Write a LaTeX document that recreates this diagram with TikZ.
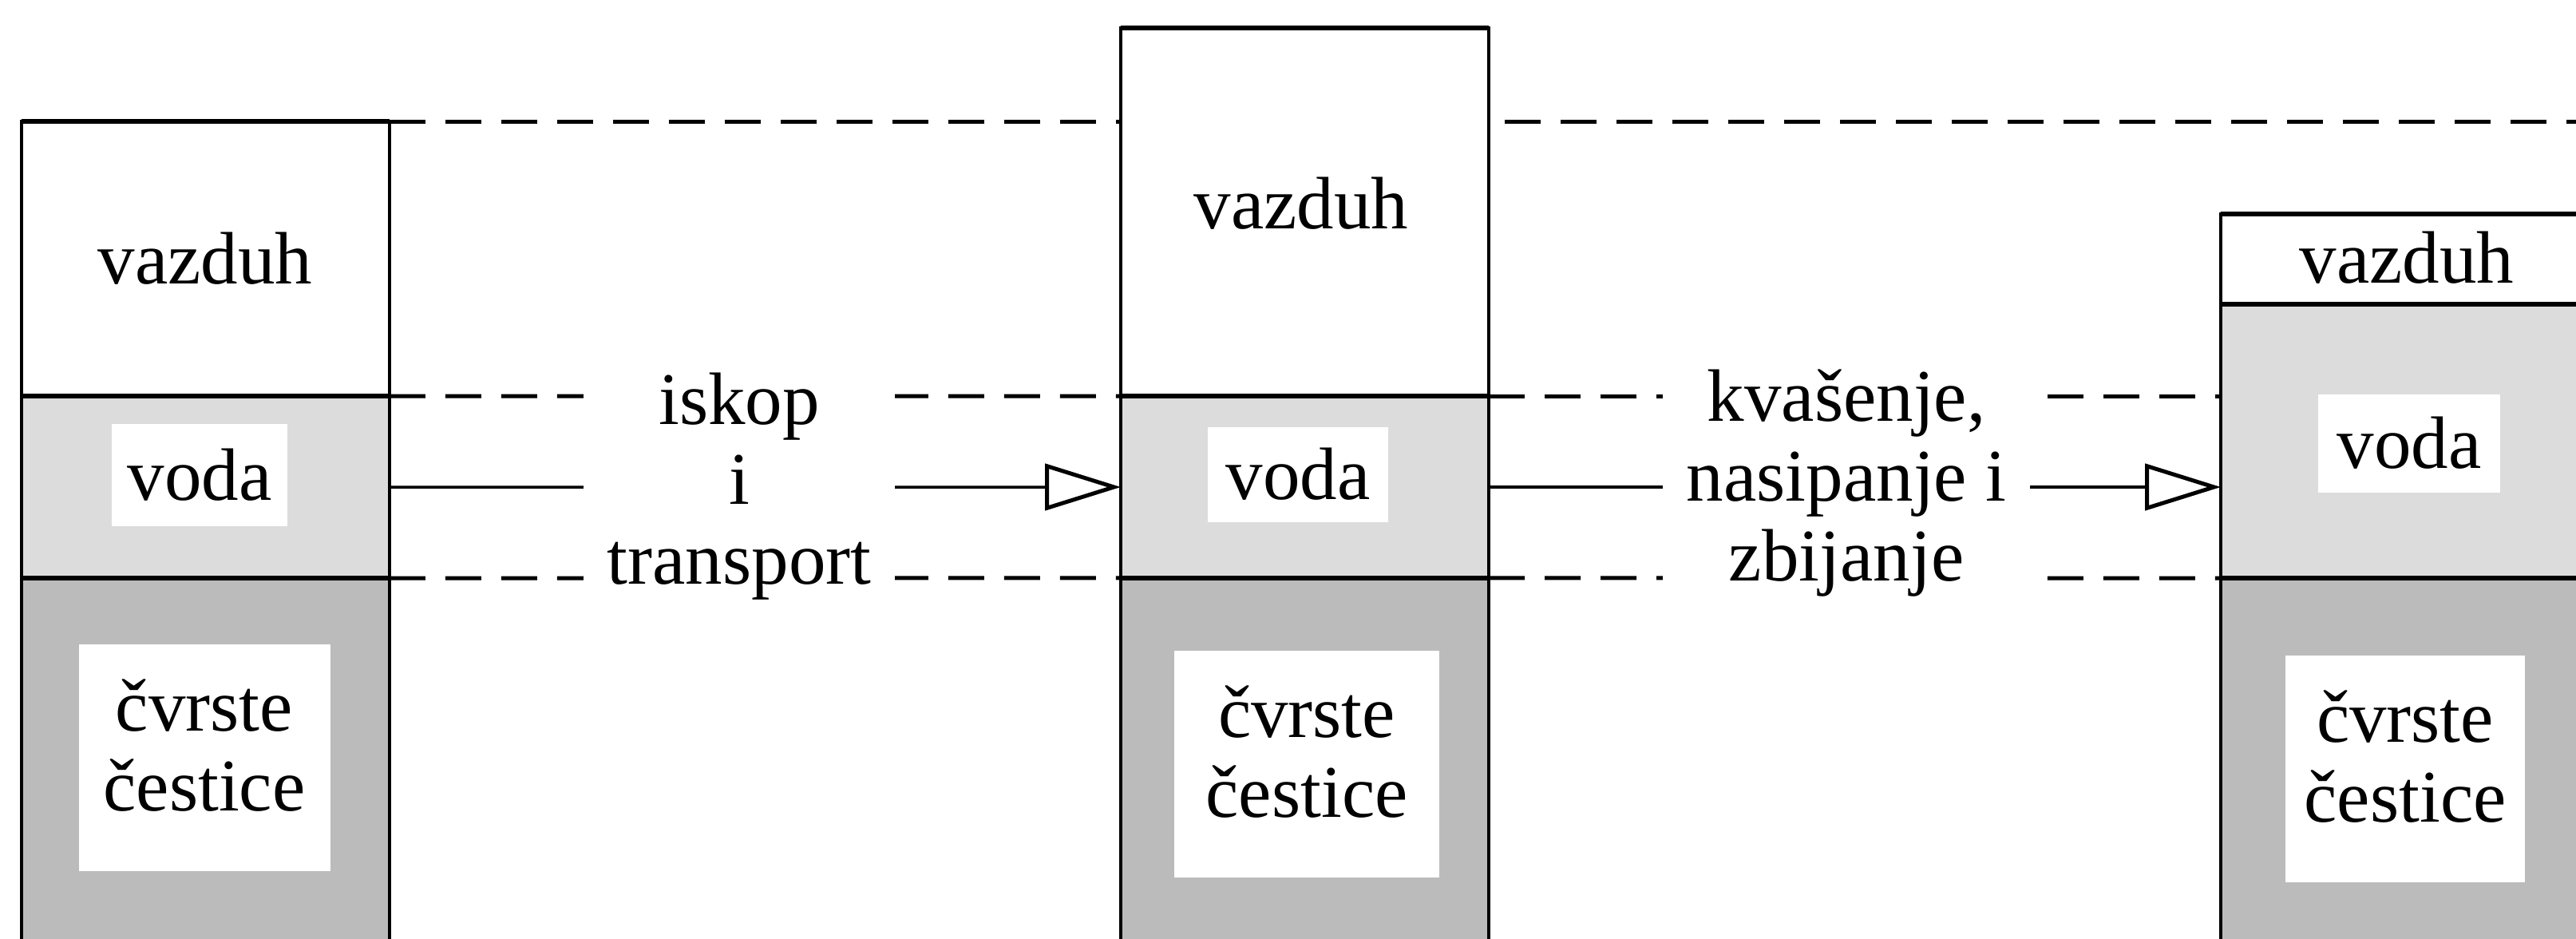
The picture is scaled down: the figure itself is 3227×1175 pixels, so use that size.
\documentclass[tikz,border=0pt]{standalone}
\usepackage{fontspec}
\setmainfont{Liberation Serif}
\usetikzlibrary{positioning,arrows.meta}
\definecolor{WaterGray}{HTML}{DCDCDC}
\definecolor{GrainGray}{HTML}{BBBBBB}

\begin{document}
\begin{tikzpicture}[x=0.1pt, y=-0.1pt,
  font=\fontsize{9.3pt}{10pt}\selectfont,
  stratum/.style={draw, line width=0.35pt, minimum width=46.1pt, inner sep=0pt, outer sep=0pt},
  air/.style={stratum, fill=white},
  water/.style={stratum, fill=WaterGray},
  grains/.style={stratum, fill=GrainGray, minimum height=50pt},
  tag/.style={fill=white, inner sep=0pt, align=center},
  graintag/.style={tag, minimum height=28.4pt, text depth=3.2pt},
  boundary/.style={line width=0.6pt},
  level/.style={dash pattern=on 4.5pt off 2.5pt, line width=0.5pt},
  flow/.style={line width=0.35pt, -{Triangle[open, length=9.5pt, width=5.8pt, line width=0.5pt]}},
  process/.style={fill=white, inner xsep=3pt, inner ysep=2pt, align=center}]
  \clip (0,0) rectangle (3227,1175);

  % Column 1: natural soil
  \node[air, minimum height=34.4pt, anchor=north west] (air1) at (27,152) {};
  \node[water, minimum height=22.8pt, below=0pt of air1] (water1) {};
  \node[grains, below=0pt of water1] (grains1) {};

  % Column 2: loose soil
  \node[air, minimum height=46.1pt, anchor=north west] (air2) at (1404,35) {};
  \node[water, minimum height=22.8pt, below=0pt of air2] (water2) {};
  \node[grains, below=0pt of water2] (grains2) {};

  % Column 3: compacted soil
  \node[air, minimum height=11.3pt, anchor=north west] (air3) at (2782,268) {};
  \node[water, minimum height=34.3pt, below=0pt of air3] (water3) {};
  \node[grains, below=0pt of water3] (grains3) {};

  % Band boundaries
  \foreach \n in {air1,water1,grains1,air2,water2,grains2,air3,water3,grains3}
    \draw[boundary] (\n.north west) -- (\n.north east);

  % Phase names
  \node (airtext1) at (257,324) {vazduh};
  \node[tag, minimum width=22pt, minimum height=12.8pt] (watertag1) at (250,595) {voda};
  \node[graintag, minimum width=31.5pt] (graintag1) at (256,949) {čvrste\\čestice};

  \node (airtext2) at (1630,255) {vazduh};
  \node[tag, minimum width=22.6pt, minimum height=11.9pt] (watertag2) at (1626,594) {voda};
  \node[graintag, minimum width=33.2pt] (graintag2) at (1637,957) {čvrste\\čestice};

  \node (airtext3) at (3015,323) {vazduh};
  \node[tag, minimum width=22.8pt, minimum height=12.3pt] (watertag3) at (3018,555) {voda};
  \node[graintag, minimum width=30pt] (graintag3) at (3013,963) {čvrste\\čestice};

  % Level lines
  \coordinate (rim) at (3240,152);
  \draw[level] (air1.north east) -- (air1.north east -| air2.west);
  \draw[level] ([xshift=2pt]air1.north -| air2.east) -- (rim);
  \draw[level] (water1.north east) -- (water2.north west);
  \draw[level] (water2.north east) -- (water2.north east -| water3.west);
  \draw[level] (grains1.north east) -- (grains2.north west);
  \draw[level] (grains2.north east) -- (grains3.north west);

  % Processes
  \draw[flow] (water1.east) -- (water2.west);
  \draw[flow] (water2.east) -- (water3.west |- water2.east);
  \node[process] (dig) at (926,609) {iskop\\i\\transport};
  \node[process] (wet) at (2313,605) {kvašenje,\\nasipanje i\\zbijanje};
\end{tikzpicture}
\end{document}
